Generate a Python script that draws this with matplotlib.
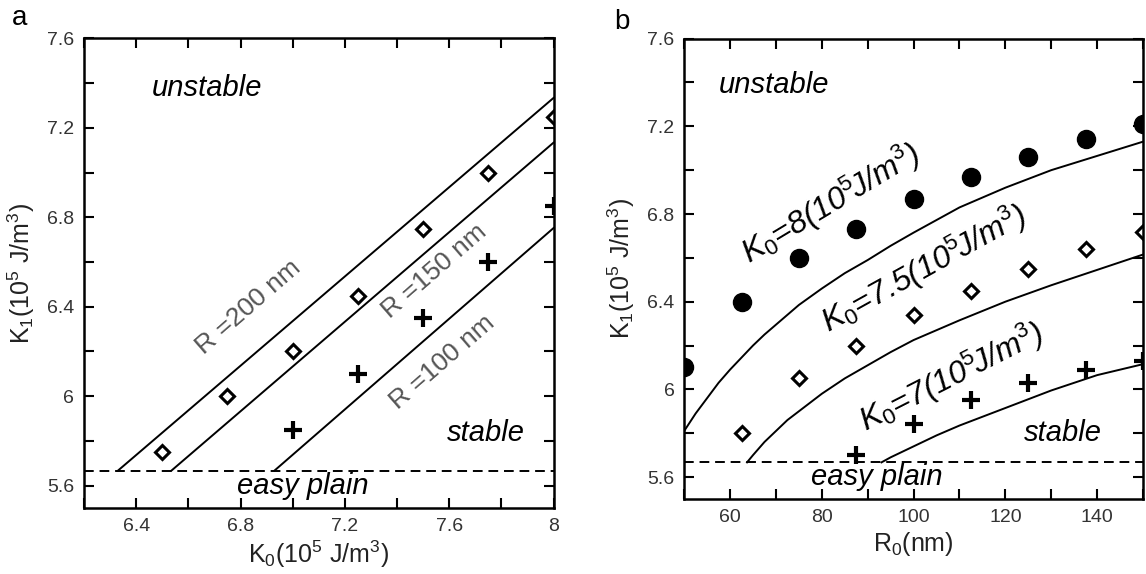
import matplotlib
matplotlib.use("Agg")
import matplotlib.pyplot as plt
from matplotlib.ticker import MultipleLocator, FormatStrFormatter

plt.rcParams["font.family"] = ["Liberation Sans", "DejaVu Sans"]
plt.rcParams["mathtext.fontset"] = "custom"
plt.rcParams["mathtext.rm"] = "Liberation Sans"
plt.rcParams["mathtext.it"] = "Liberation Sans:italic"

# panel a: K1 vs K0
a_line_labels = ["R =200 nm", "R =150 nm", "R =100 nm"]
a_line_k0_start = [6.33, 6.535, 6.93]
a_line_k0_end = [8.0, 8.0, 8.0]
a_line_k1_start = [5.667, 5.667, 5.667]
a_line_k1_end = [7.334, 7.134, 6.752]

a_diamond_k0 = [6.5, 6.75, 7.0, 7.25, 7.5, 7.75, 8.0]
a_diamond_k1 = [5.75, 6.0, 6.2, 6.45, 6.75, 7.0, 7.25]
a_plus_k0 = [7.0, 7.25, 7.5, 7.75, 8.0]
a_plus_k1 = [5.85, 6.1, 6.35, 6.6, 6.85]

easy_plane_k1 = 5.667

# panel b: K1 vs R0
b_circle_r0 = [50, 62.5, 75, 87.5, 100, 112.5, 125, 137.5, 150]
b_circle_k1 = [6.1, 6.4, 6.6, 6.73, 6.87, 6.97, 7.06, 7.14, 7.21]
b_diamond_r0 = [62.5, 75, 87.5, 100, 112.5, 125, 137.5, 150]
b_diamond_k1 = [5.8, 6.05, 6.2, 6.34, 6.45, 6.55, 6.64, 6.72]
b_plus_r0 = [87.5, 100, 112.5, 125, 137.5, 150]
b_plus_k1 = [5.7, 5.84, 5.95, 6.03, 6.09, 6.13]

k8_r0 = [50, 52.5, 55, 57.5, 60, 62.5, 65, 67.5, 70, 75, 80, 85, 90, 95, 100, 110, 120, 130, 140, 150]
k8_k1 = [5.81, 5.89, 5.96, 6.03, 6.09, 6.145, 6.2, 6.25, 6.295, 6.385, 6.46, 6.53, 6.59, 6.655, 6.715,
         6.83, 6.92, 7.0, 7.065, 7.13]
k75_r0 = [63.7, 65, 67.5, 70, 72.5, 75, 80, 85, 90, 95, 100, 110, 120, 130, 140, 150]
k75_k1 = [5.667, 5.70, 5.76, 5.81, 5.86, 5.9, 5.98, 6.05, 6.11, 6.17, 6.225, 6.315, 6.4, 6.475,
          6.545, 6.615]
k7_r0 = [93, 95, 97.5, 100, 105, 110, 115, 120, 130, 140, 150]
k7_k1 = [5.667, 5.69, 5.715, 5.74, 5.79, 5.835, 5.875, 5.915, 5.995, 6.065, 6.115]

fig = plt.figure(figsize=(11.46, 5.74), dpi=100)
ax1 = fig.add_axes([0.0733, 0.115, 0.4097, 0.818])
ax2 = fig.add_axes([0.597, 0.1307, 0.4004, 0.802])

tick_col = "#333333"
for ax in (ax1, ax2):
    for s in ax.spines.values():
        s.set_linewidth(1.8)
    ax.tick_params(which="both", direction="in", top=True, right=True,
                   length=7, width=1.5, labelsize=14, labelcolor=tick_col, pad=7)
    ax.set_ylim(5.5, 7.6)
    ax.yaxis.set_major_locator(MultipleLocator(0.4))
    ax.yaxis.set_minor_locator(MultipleLocator(0.2))
    ax.yaxis.set_major_formatter(FormatStrFormatter("%g"))
    ax.set_ylabel("K$_1$(10$^5$ J/m$^3$)", fontsize=18, color="#222222", labelpad=7)

# ---- panel a
ax1.set_xlim(6.2, 8.0)
ax1.set_xticks([6.4, 6.8, 7.2, 7.6, 8.0])
ax1.xaxis.set_minor_locator(MultipleLocator(0.2))
ax1.xaxis.set_major_formatter(FormatStrFormatter("%g"))
ax1.set_xlabel("K$_0$(10$^5$ J/m$^3$)", fontsize=18, color="#222222", labelpad=3)

for i in range(len(a_line_labels)):
    ax1.plot([a_line_k0_start[i], a_line_k0_end[i]],
             [a_line_k1_start[i], a_line_k1_end[i]], color="black", lw=1.4)
ax1.axhline(easy_plane_k1, color="black", lw=1.4, ls=(0, (5, 3)))
ax1.plot(a_diamond_k0, a_diamond_k1, ls="none", marker="D", ms=7,
         mfc="white", mec="black", mew=2.2)
ax1.plot(a_plus_k0, a_plus_k1, ls="none", marker="+", ms=13,
         mec="black", mew=3)

label_pos_a = [(6.83, 6.40), (7.545, 6.56), (7.573, 6.154)]
for lab, (x, y) in zip(a_line_labels, label_pos_a):
    ax1.text(x, y, lab, rotation=41, fontsize=19, color="#555555",
             ha="center", va="center", rotation_mode="anchor")

ax1.text(6.67, 7.38, "unstable", fontsize=21, style="italic", ha="center", va="center")
ax1.text(7.74, 5.835, "stable", fontsize=21, style="italic", ha="center", va="center")
ax1.text(7.04, 5.598, "easy plain", fontsize=21, style="italic", ha="center", va="center")
fig.text(20 / 1146, 1 - 18 / 574, "a", fontsize=20, ha="center", va="center")

# ---- panel b
ax2.set_xlim(50, 150)
ax2.set_xticks([60, 80, 100, 120, 140])
ax2.xaxis.set_minor_locator(MultipleLocator(10))
ax2.set_xlabel("R$_0$(nm)", fontsize=18, color="#222222", labelpad=3)

ax2.plot(k8_r0, k8_k1, color="black", lw=1.4)
ax2.plot(k75_r0, k75_k1, color="black", lw=1.4)
ax2.plot(k7_r0, k7_k1, color="black", lw=1.4)
ax2.axhline(easy_plane_k1, color="black", lw=1.4, ls=(0, (5, 3)))

ax2.plot(b_circle_r0, b_circle_k1, ls="none", marker="o", ms=13,
         mfc="black", mec="black")
ax2.plot(b_diamond_r0, b_diamond_k1, ls="none", marker="D", ms=7,
         mfc="white", mec="black", mew=2.2)
ax2.plot(b_plus_r0, b_plus_k1, ls="none", marker="+", ms=13,
         mec="black", mew=3)

ax2.text(82.0, 6.85, r"$K_0$=8(10$^{5}\!$J/m$^3$)", rotation=31, fontsize=23,
         style="italic", ha="center", va="center", rotation_mode="anchor")
ax2.text(102.2, 6.55, r"$K_0$=7.5(10$^{5}\!$J/m$^3$)", rotation=29, fontsize=23,
         style="italic", ha="center", va="center", rotation_mode="anchor")
ax2.text(108.2, 6.055, r"$K_0$=7(10$^{5}\!$J/m$^3$)", rotation=27, fontsize=23,
         style="italic", ha="center", va="center", rotation_mode="anchor")

ax2.text(69.5, 7.39, "unstable", fontsize=21, style="italic", ha="center", va="center")
ax2.text(132.5, 5.80, "stable", fontsize=21, style="italic", ha="center", va="center")
ax2.text(91.9, 5.60, "easy plain", fontsize=21, style="italic", ha="center", va="center")
fig.text(622 / 1146, 1 - 22 / 574, "b", fontsize=20, ha="center", va="center")

fig.savefig("out.png", dpi=100, facecolor="white")
